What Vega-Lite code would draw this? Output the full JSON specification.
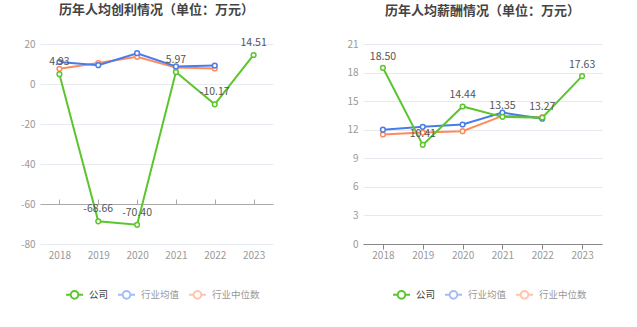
{
  "$schema": "https://vega.github.io/schema/vega-lite/v6.json",
  "background": "white",
  "padding": {"left": 20, "top": 3, "right": 10, "bottom": 5},
  "bounds": "flush",
  "spacing": 90,
  "datasets": {
    "profit": [
      {"year": "2018", "s": "行业中位数", "v": 7.6},
      {"year": "2019", "s": "行业中位数", "v": 10.5},
      {"year": "2020", "s": "行业中位数", "v": 13.6},
      {"year": "2021", "s": "行业中位数", "v": 8.2},
      {"year": "2022", "s": "行业中位数", "v": 7.8},
      {"year": "2018", "s": "行业均值", "v": 11.0},
      {"year": "2019", "s": "行业均值", "v": 9.4},
      {"year": "2020", "s": "行业均值", "v": 15.4},
      {"year": "2021", "s": "行业均值", "v": 8.8},
      {"year": "2022", "s": "行业均值", "v": 9.2},
      {"year": "2018", "s": "公司", "v": 4.93},
      {"year": "2019", "s": "公司", "v": -68.66},
      {"year": "2020", "s": "公司", "v": -70.40},
      {"year": "2021", "s": "公司", "v": 5.97},
      {"year": "2022", "s": "公司", "v": -10.17},
      {"year": "2023", "s": "公司", "v": 14.51}
    ],
    "salary": [
      {"year": "2018", "s": "行业中位数", "v": 11.5},
      {"year": "2019", "s": "行业中位数", "v": 11.7},
      {"year": "2020", "s": "行业中位数", "v": 11.85},
      {"year": "2021", "s": "行业中位数", "v": 13.45},
      {"year": "2022", "s": "行业中位数", "v": 13.3},
      {"year": "2018", "s": "行业均值", "v": 12.0},
      {"year": "2019", "s": "行业均值", "v": 12.3},
      {"year": "2020", "s": "行业均值", "v": 12.55},
      {"year": "2021", "s": "行业均值", "v": 13.8},
      {"year": "2022", "s": "行业均值", "v": 13.15},
      {"year": "2018", "s": "公司", "v": 18.50},
      {"year": "2019", "s": "公司", "v": 10.41},
      {"year": "2020", "s": "公司", "v": 14.44},
      {"year": "2021", "s": "公司", "v": 13.35},
      {"year": "2022", "s": "公司", "v": 13.27},
      {"year": "2023", "s": "公司", "v": 17.63}
    ]
  },
  "resolve": {"scale": {"color": "independent"}, "legend": {"color": "independent"}},
  "hconcat": [
    {
      "width": 233,
      "height": 200,
      "title": {"text": "历年人均创利情况（单位：万元）"},
      "data": {"name": "profit"},
      "resolve": {"axis": {"x": "independent"}},
      "encoding": {
        "x": {"field": "year", "type": "ordinal", "sort": null},
        "y": {"field": "v", "type": "quantitative", "scale": {"domain": [-80, 20], "nice": false},
              "axis": {"values": [-80, -60, -40, -20, 0, 20], "title": null}},
        "color": {"field": "s", "type": "nominal",
                  "scale": {"domain": ["公司", "行业均值", "行业中位数"], "range": ["#5cc52e", "#4a7ce8", "#ff8a5b"]},
                  "legend": {"orient": "none", "legendX": 25, "legendY": 241, "direction": "horizontal", "title": null,
                             "symbolType": "M-1,0L-0.45,0M0.45,0L1,0M-0.45,0A0.45,0.45 0 1,0 0.45,0A0.45,0.45 0 1,0 -0.45,0",
                             "symbolSize": 289, "symbolStrokeWidth": 2, "symbolFillColor": "white",
                             "labelFontSize": 9.5, "labelFont": "Noto Sans CJK SC", "labelOffset": 5, "columnPadding": 5,
                             "encode": {
                               "symbols": {"update": {"opacity": {"signal": "datum.value === '公司' ? 1 : 0.5"}}},
                               "labels": {"update": {"fill": {"signal": "datum.value === '公司' ? '#333333' : '#999999'"}}}
                             }}}
      },
      "layer": [
        {
          "mark": {"type": "line", "strokeWidth": 2},
          "encoding": {
            "x": {"field": "year", "type": "ordinal", "sort": null,
                  "axis": {"title": null, "domain": false, "ticks": false, "labelAngle": 0, "labelPadding": 6, "grid": false}}
          }
        },
        {
          "mark": {"type": "point", "filled": false, "fill": "white", "size": 22, "strokeWidth": 1.5, "opacity": 1},
          "encoding": {
            "x": {"field": "year", "type": "ordinal", "sort": null,
                  "axis": {"title": null, "labels": false, "domain": true, "ticks": true, "tickSize": 5, "offset": -160, "grid": false, "domainColor": "#aaaaaa", "tickColor": "#aaaaaa"}}
          }
        },
        {
          "transform": [{"filter": "datum.s === '公司'"}],
          "mark": {"type": "text", "dy": -12, "fontSize": 10.5, "color": "#555555", "font": "Noto Sans CJK SC"},
          "encoding": {
            "x": {"field": "year", "type": "ordinal", "sort": null, "axis": null},
            "text": {"field": "v", "type": "quantitative", "format": ".2f"},
            "color": {"value": "#555555"}
          }
        }
      ]
    },
    {
      "width": 239,
      "height": 200,
      "title": {"text": "历年人均薪酬情况（单位：万元）"},
      "data": {"name": "salary"},
      "encoding": {
        "x": {"field": "year", "type": "ordinal", "sort": null,
              "axis": {"title": null, "labelAngle": 0, "domain": true, "ticks": true, "tickSize": 5, "labelPadding": 1, "grid": false, "domainColor": "#888888", "tickColor": "#888888"}},
        "y": {"field": "v", "type": "quantitative", "scale": {"domain": [0, 21], "nice": false},
              "axis": {"values": [0, 3, 6, 9, 12, 15, 18, 21], "title": null}},
        "color": {"field": "s", "type": "nominal",
                  "scale": {"domain": ["公司", "行业均值", "行业中位数"], "range": ["#5cc52e", "#4a7ce8", "#ff8a5b"]},
                  "legend": {"orient": "none", "legendX": 29, "legendY": 241, "direction": "horizontal", "title": null,
                             "symbolType": "M-1,0L-0.45,0M0.45,0L1,0M-0.45,0A0.45,0.45 0 1,0 0.45,0A0.45,0.45 0 1,0 -0.45,0",
                             "symbolSize": 289, "symbolStrokeWidth": 2, "symbolFillColor": "white",
                             "labelFontSize": 9.5, "labelFont": "Noto Sans CJK SC", "labelOffset": 5, "columnPadding": 5,
                             "encode": {
                               "symbols": {"update": {"opacity": {"signal": "datum.value === '公司' ? 1 : 0.5"}}},
                               "labels": {"update": {"fill": {"signal": "datum.value === '公司' ? '#333333' : '#999999'"}}}
                             }}}
      },
      "layer": [
        {"mark": {"type": "line", "strokeWidth": 2}},
        {"mark": {"type": "point", "filled": false, "fill": "white", "size": 22, "strokeWidth": 1.5, "opacity": 1}},
        {
          "transform": [{"filter": "datum.s === '公司'"}],
          "mark": {"type": "text", "dy": -11, "fontSize": 10.5, "color": "#555555", "font": "Noto Sans CJK SC"},
          "encoding": {
            "text": {"field": "v", "type": "quantitative", "format": ".2f"},
            "color": {"value": "#555555"}
          }
        }
      ]
    }
  ],
  "config": {
    "locale": {"number": {"decimal": ".", "thousands": ",", "grouping": [3], "currency": ["", ""], "minus": "-"}},
    "view": {"stroke": null},
    "font": "Noto Sans CJK SC",
    "title": {"fontSize": 13, "fontWeight": "bold", "color": "#444444", "anchor": "middle", "offset": 21, "font": "Noto Sans CJK SC"},
    "axis": {"labelColor": "#999999", "labelFontSize": 10, "labelFont": "Noto Sans CJK SC", "gridColor": "#e8eaf2", "gridWidth": 1},
    "axisY": {"domain": false, "ticks": false, "labelPadding": 5, "grid": true},
    "axisX": {"grid": false}
  }
}
